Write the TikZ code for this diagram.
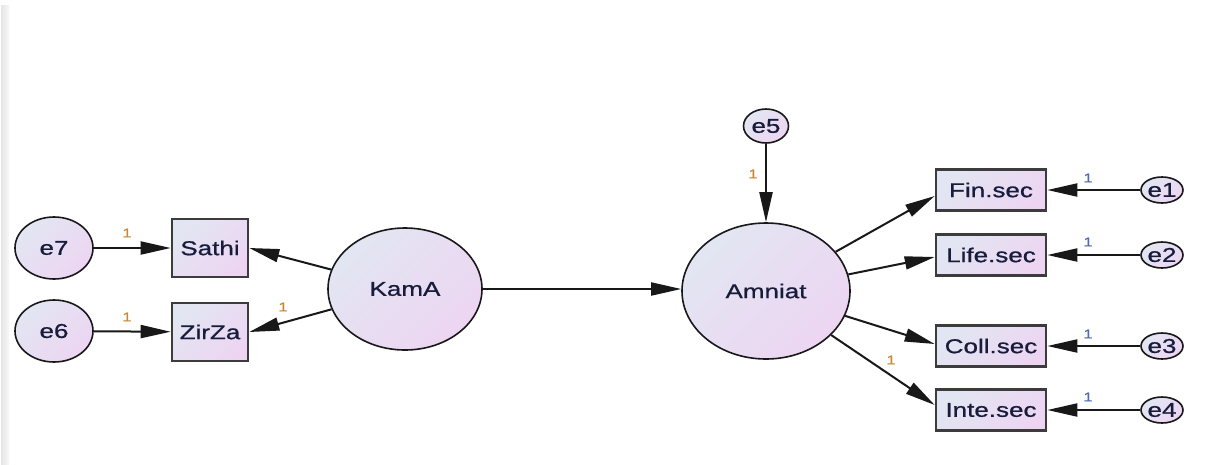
\documentclass[tikz,border=0pt]{standalone}
\usepackage{fontspec}
\usetikzlibrary{arrows.meta,shapes.geometric,calc}
\newfontfamily\semfont{Liberation Sans}[FakeStretch=1.3, FakeBold=0.8]

\definecolor{fillA}{RGB}{226,230,242}
\definecolor{fillB}{RGB}{237,213,242}
\definecolor{txt}{RGB}{22,28,58}
\definecolor{ink}{RGB}{24,24,24}
\definecolor{boxline}{RGB}{60,60,60}
\definecolor{lblorange}{RGB}{200,135,55}
\definecolor{lblblue}{RGB}{80,105,180}

\tikzset{
  semfill/.style={top color=fillA, bottom color=fillB, shading angle=45},
  latent/.style={ellipse, draw=ink, line width=1.6pt, semfill, text=txt,
    font=\semfont\fontsize{20}{24}\selectfont, inner sep=0pt},
  observed/.style={rectangle, draw=boxline, line width=2.6pt, semfill, text=txt,
    font=\semfont\fontsize{20}{24}\selectfont, inner sep=0pt},
  regpath/.style={draw=ink, line width=2pt, -{Triangle[length=30pt,width=13pt]}},
  lbl/.style={font=\semfont\fontsize{12.5}{14}\selectfont, inner sep=0pt},
}

\begin{document}
\begin{tikzpicture}[x=1pt, y=-1pt]
\useasboundingbox (0,0) rectangle (1208,464);
\fill[white] (0,0) rectangle (1208,464);
% faint frame strip on the left
\shade[left color=black!10, right color=black!3] (1,5) rectangle (9,464);

% exogenous factor and its indicators
\node[latent, minimum width=154pt, minimum height=122pt] (kama) at (405,289) {KamA};
\node[observed, minimum width=76pt, minimum height=58pt] (sathi) at (210,248) {Sathi};
\node[observed, minimum width=76pt, minimum height=58pt] (zirza) at (210,332) {ZirZa};
\node[latent, minimum width=78pt, minimum height=62pt] (e7) at (54,248) {e7};
\node[latent, minimum width=78pt, minimum height=62pt] (e6) at (54,331) {e6};

% endogenous factor and its indicators
\node[latent, minimum width=168pt, minimum height=136pt] (amn) at (766,291) {Amniat};
\node[latent, minimum width=45pt, minimum height=34pt] (e5) at (766,126) {e5};
\node[observed, minimum width=110pt, minimum height=41pt] (fin) at (991,190) {Fin.sec};
\node[observed, minimum width=110pt, minimum height=41pt] (life) at (991,255) {Life.sec};
\node[observed, minimum width=110pt, minimum height=41pt] (coll) at (991,346) {Coll.sec};
\node[observed, minimum width=110pt, minimum height=41pt] (inte) at (991,410) {Inte.sec};
\node[latent, minimum width=42pt, minimum height=26pt] (e1) at (1162,190) {e1};
\node[latent, minimum width=42pt, minimum height=26pt] (e2) at (1162,255) {e2};
\node[latent, minimum width=42pt, minimum height=26pt] (e3) at (1162,346) {e3};
\node[latent, minimum width=42pt, minimum height=26pt] (e4) at (1162,410) {e4};

% paths
\draw[regpath] (e7) -- (sathi);
\draw[regpath] (e6) -- (zirza);
\draw[regpath] (kama) -- (sathi.east);
\draw[regpath] (kama) -- (zirza.east);
\draw[regpath] (kama.east) -- (kama.east -| amn.west);
\draw[regpath] (e5) -- (amn);
\draw[regpath] (amn) -- ($(fin.west)+(0,6)$);
\draw[regpath] (amn) -- ($(life.west)+(0,2)$);
\draw[regpath] (amn) -- ($(coll.west)+(0,-2)$);
\draw[regpath] (amn) -- ($(inte.west)+(0,-5)$);
\draw[regpath] (e1) -- (fin);
\draw[regpath] (e2) -- (life);
\draw[regpath] (e3) -- (coll);
\draw[regpath] (e4) -- (inte);

% fixed-loading labels
\node[lbl, text=lblorange] (w7) at (127,233) {1};
\node[lbl, text=lblorange] (w6) at (127,317) {1};
\node[lbl, text=lblorange] (wz) at (283,307) {1};
\node[lbl, text=lblorange] (w5) at (753,174) {1};
\node[lbl, text=lblorange] (wi) at (891,360) {1};
\node[lbl, text=lblblue] (w1) at (1088,178) {1};
\node[lbl, text=lblblue] (w2) at (1088,242) {1};
\node[lbl, text=lblblue] (w3) at (1088,334) {1};
\node[lbl, text=lblblue] (w4) at (1088,397) {1};
\end{tikzpicture}
\end{document}
